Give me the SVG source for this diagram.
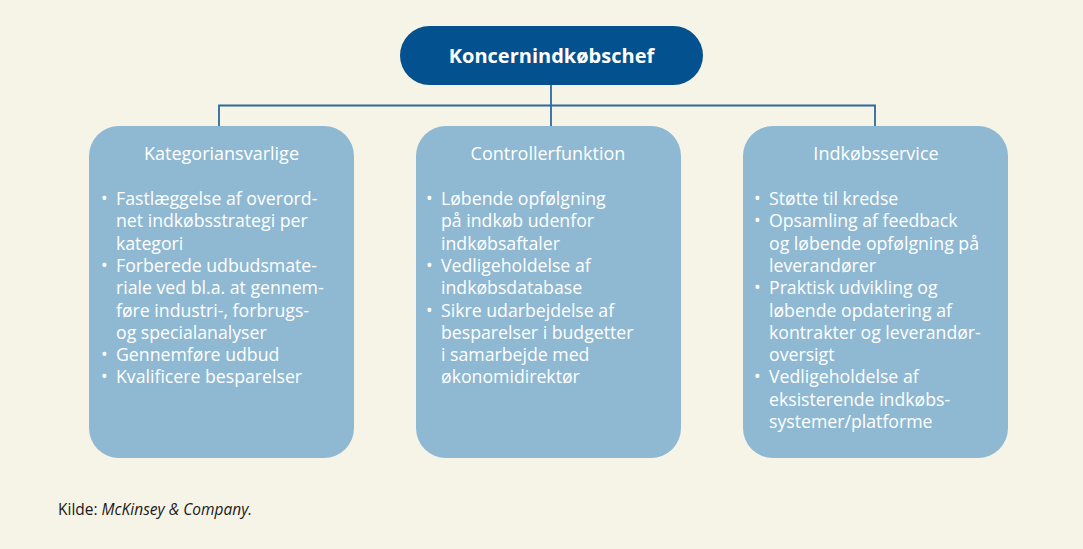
<svg xmlns="http://www.w3.org/2000/svg" width="1083" height="549" viewBox="0 0 1083 549">
<style>
.bg{fill:#f6f3e7}
.top{fill:#03528f}
.box{fill:#8fb9d2}
.conn{fill:none;stroke:#2c69a0;stroke-width:1.8}
.t{font-family:"Open Sans","Noto Sans",sans-serif;fill:#ffffff}
.title{font-size:18px;text-anchor:middle}
.b{font-size:17.7px}
.head{font-size:20px;font-weight:bold;text-anchor:middle}
.src{font-family:"Open Sans","Noto Sans",sans-serif;font-size:15.5px;fill:#1a1a1a}
</style>
<rect class="bg" x="0" y="0" width="1083" height="549"/>
<g id="connectors">
<path class="conn" d="M551 85 V126"/>
<path class="conn" d="M219 126 V105.5 H875 V126"/>
</g>
<g id="koncernindkobschef">
<rect class="top" x="400" y="26" width="303" height="59" rx="29.5"/>
<text class="t head" x="551.5" y="63">Koncernindkøbschef</text>
</g>
<g id="kategoriansvarlige">
<rect class="box" x="89" y="126" width="265" height="332" rx="30"/>
<text class="t title" x="221.5" y="160">Kategoriansvarlige</text>
<g class="t b">
<text x="101" y="205">•<tspan x="116">Fastlæggelse af overord-</tspan></text>
<text x="116" y="227.3">net indkøbsstrategi per</text>
<text x="116" y="249.6">kategori</text>
<text x="101" y="271.9">•<tspan x="116">Forberede udbudsmate-</tspan></text>
<text x="116" y="294.2">riale ved bl.a. at gennem-</text>
<text x="116" y="316.5">føre industri-, forbrugs-</text>
<text x="116" y="338.8">og specialanalyser</text>
<text x="101" y="361.1">•<tspan x="116">Gennemføre udbud</tspan></text>
<text x="101" y="383.4">•<tspan x="116">Kvalificere besparelser</tspan></text>
</g>
</g>
<g id="controllerfunktion">
<rect class="box" x="416" y="126" width="265" height="332" rx="30"/>
<text class="t title" x="548" y="160">Controllerfunktion</text>
<g class="t b">
<text x="426" y="205">•<tspan x="441">Løbende opfølgning</tspan></text>
<text x="441" y="227.3">på indkøb udenfor</text>
<text x="441" y="249.6">indkøbsaftaler</text>
<text x="426" y="271.9">•<tspan x="441">Vedligeholdelse af</tspan></text>
<text x="441" y="294.2">indkøbsdatabase</text>
<text x="426" y="316.5">•<tspan x="441">Sikre udarbejdelse af</tspan></text>
<text x="441" y="338.8">besparelser i budgetter</text>
<text x="441" y="361.1">i samarbejde med</text>
<text x="441" y="383.4">økonomidirektør</text>
</g>
</g>
<g id="indkobsservice">
<rect class="box" x="743" y="126" width="265" height="332" rx="30"/>
<text class="t title" x="876" y="160">Indkøbsservice</text>
<g class="t b">
<text x="754" y="205">•<tspan x="769">Støtte til kredse</tspan></text>
<text x="754" y="227.3">•<tspan x="769">Opsamling af feedback</tspan></text>
<text x="769" y="249.6">og løbende opfølgning på</text>
<text x="769" y="271.9">leverandører</text>
<text x="754" y="294.2">•<tspan x="769">Praktisk udvikling og</tspan></text>
<text x="769" y="316.5">løbende opdatering af</text>
<text x="769" y="338.8">kontrakter og leverandør-</text>
<text x="769" y="361.1">oversigt</text>
<text x="754" y="383.4">•<tspan x="769">Vedligeholdelse af</tspan></text>
<text x="769" y="405.7">eksisterende indkøbs-</text>
<text x="769" y="428">systemer/platforme</text>
</g>
</g>
<text class="src" x="58" y="515">Kilde: <tspan font-style="italic">McKinsey &amp; Company.</tspan></text>
</svg>
